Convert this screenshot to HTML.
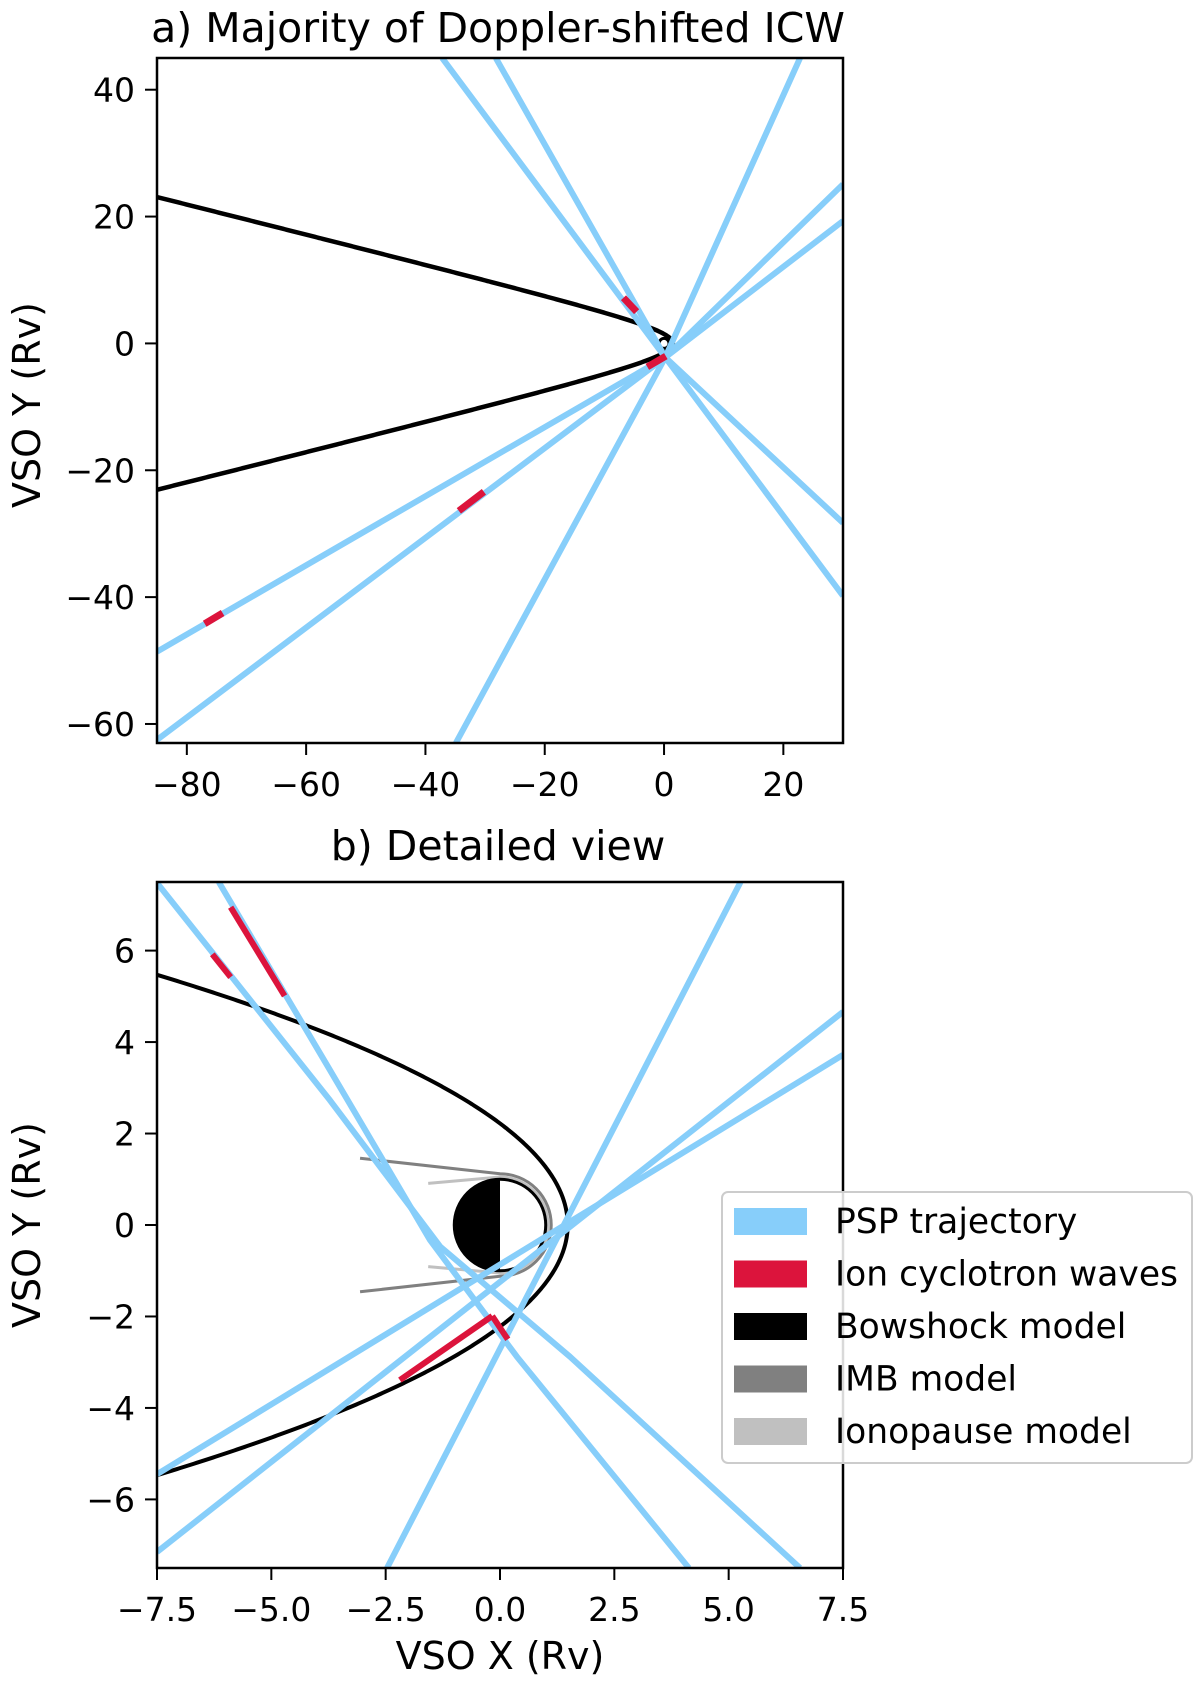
<!DOCTYPE html>
<html><head><meta charset="utf-8"><style>
html,body{margin:0;padding:0;background:#fff;overflow:hidden;}
svg{display:block;font-family:"DejaVu Sans","Liberation Sans",sans-serif;}
</style></head><body>
<svg id="fig" width="1200" height="1683" viewBox="0 0 1200 1683" xmlns="http://www.w3.org/2000/svg"></svg>
<script>
// ---------- data (panel a) ----------
const aXTicks = [-80, -60, -40, -20, 0, 20];
const aYTicks = [-60, -40, -20, 0, 20, 40];
const aConv = [0.2, -2.2];
const aTrajStartX = [-37.2, -28.2, -34.9, -85, -85];
const aTrajStartY = [45, 45, -63, -62.5, -48.6];
const aTrajEndX = [30, 30, 22.8, 30, 30];
const aTrajEndY = [-28.3, -39.8, 45, 19.3, 25.1];
const aIcw = [[-6.8, 7.2, -4.6, 5.0], [-2.8, -3.7, 0.3, -2.0], [-34.4, -26.4, -30.2, -23.4], [-77.0, -44.2, -74.0, -42.5]];
// bow shock model (panel a): hyperbola x = nose - A*(sqrt(1+(y/B)^2)-1)
const bsParamsA = [1.48, 12.8, 3.0];
const bsYMaxA = 24;
// bow shock model (panel b): parabola x = nose - a*y^2
const bsParamsB = [1.48, 0.30];
const bsYMaxB = 5.8;
// ---------- data (panel b) ----------
const bXTicks = [-7.5, -5.0, -2.5, 0.0, 2.5, 5.0, 7.5];
const bYTicks = [-6, -4, -2, 0, 2, 4, 6];
const bTrajX = [
  [-7.5, -3.72, -1.31, 1.53, 6.56],
  [-6.15, -3.72, -1.53, 0.37, 4.13],
  [-2.47, 5.26],
  [-7.5, 7.5],
  [-7.5, 7.5]
];
const bTrajY = [
  [7.48, 2.73, -0.47, -2.88, -7.5],
  [7.5, 3.39, -0.33, -2.88, -7.5],
  [-7.5, 7.5],
  [-5.45, 3.72],
  [-7.15, 4.66]
];
const bIcw = [[-5.89, 6.95, -4.71, 5.01], [-6.29, 5.92, -5.89, 5.42], [-2.19, -3.39, -0.17, -1.99], [-0.17, -1.99, 0.17, -2.5]];
const imbTail = [-3.06, 1.46];
const imbR = 1.12;
const ionoTail = [-1.57, 0.91];
const ionoR = 1.05;
const legendLabels = ["PSP trajectory", "Ion cyclotron waves", "Bowshock model", "IMB model", "Ionopause model"];
const legendColors = ["#87CEFA", "#DC143C", "#000000", "#808080", "#C0C0C0"];

const NS = "http://www.w3.org/2000/svg";
const svg = document.getElementById("fig");
function mk(tag, attrs, parent) {
  const e = document.createElementNS(NS, tag);
  for (const k in attrs) e.setAttribute(k, attrs[k]);
  (parent || svg).appendChild(e);
  return e;
}
function fmt(v, dec) { const s = Math.abs(v).toFixed(dec); return (v < 0 ? "\u2212" : "") + s; }

function axes(L, T, R, B, xmin, xmax, ymin, ymax) {
  return {
    x: v => L + (v - xmin) / (xmax - xmin) * (R - L),
    y: v => B - (v - ymin) / (ymax - ymin) * (B - T),
    L, T, R, B
  };
}

function drawPanel(ax, clipId, name) {
  const defs = mk("defs", {});
  const cp = mk("clipPath", { id: clipId }, defs);
  mk("rect", { x: ax.L, y: ax.T, width: ax.R - ax.L, height: ax.B - ax.T }, cp);
  const g = mk("g", { "clip-path": "url(#" + clipId + ")" });
  
  
  return g;
}

function frame(ax, xt, yt, xdec, ydec, name) {
  for (const v of xt) {
    const X = ax.x(v);
    const t = mk("line", { x1: X, y1: ax.B, x2: X, y2: ax.B + 12, stroke: "#000", "stroke-width": 2 });
    
    
    const l = mk("text", { x: X, y: ax.B + 53, "text-anchor": "middle", "font-size": 33, fill: "#000" });
    l.textContent = fmt(v, xdec);
    
    
  }
  for (const v of yt) {
    const Y = ax.y(v);
    const t = mk("line", { x1: ax.L - 12, y1: Y, x2: ax.L, y2: Y, stroke: "#000", "stroke-width": 2 });
    
    
    const l = mk("text", { x: ax.L - 22, y: Y + 12, "text-anchor": "end", "font-size": 33, fill: "#000" });
    l.textContent = fmt(v, ydec);
    
    
  }
  const r = mk("rect", { x: ax.L, y: ax.T, width: ax.R - ax.L, height: ax.B - ax.T, fill: "none", stroke: "#000", "stroke-width": 2.5 });
  
  
}

function seg(g, ax, x1, y1, x2, y2, color, w, nm) {
  const e = mk("line", { x1: ax.x(x1), y1: ax.y(y1), x2: ax.x(x2), y2: ax.y(y2), stroke: color, "stroke-width": w, "stroke-linecap": "butt" }, g);
  
  
  return e;
}

function bowshock(g, ax, fx, ymax, w, nm) {
  const pts = [];
  const N = 300;
  for (let i = -N; i <= N; i++) {
    const y = ymax * i / N;
    pts.push(ax.x(fx(y)).toFixed(2) + "," + ax.y(y).toFixed(2));
  }
  const e = mk("polyline", { points: pts.join(" "), fill: "none", stroke: "#000", "stroke-width": w, "stroke-linejoin": "round" }, g);
  
  
}

// ---------- Panel a ----------
const A = axes(157, 58, 843, 743, -85, 30, -63, 45);
const gA = drawPanel(A, "clipA", "panel-a");
bowshock(gA, A, y => bsParamsA[0] - bsParamsA[1] * (Math.sqrt(1 + (y / bsParamsA[2]) ** 2) - 1), bsYMaxA, 4.5, "bowshock-model-a");
const venA = mk("circle", { cx: A.x(0), cy: A.y(0), r: 5, fill: "#fff", stroke: "#000", "stroke-width": 3 }, gA);


for (let i = 0; i < aTrajStartX.length; i++) {
  const p = mk("polyline", {
    points: [A.x(aTrajStartX[i]), A.y(aTrajStartY[i]), A.x(aConv[0]), A.y(aConv[1]), A.x(aTrajEndX[i]), A.y(aTrajEndY[i])].join(" "),
    fill: "none", stroke: "#87CEFA", "stroke-width": 6
  }, gA);
  
  
}
for (const s of aIcw) seg(gA, A, s[0], s[1], s[2], s[3], "#DC143C", 7, "icw-segment-a");
frame(A, aXTicks, aYTicks, 0, 0, "panel-a");

const tA = mk("text", { x: 498, y: 42, "text-anchor": "middle", "font-size": 41, fill: "#000" });
tA.textContent = "a) Majority of Doppler-shifted ICW";


const yA = mk("text", { x: 0, y: 0, "text-anchor": "middle", "font-size": 38, fill: "#000", transform: "translate(40,405) rotate(-90)" });
yA.textContent = "VSO Y (Rv)";



// ---------- Panel b ----------
const B = axes(157, 882, 843, 1568, -7.5, 7.5, -7.5, 7.5);
const gB = drawPanel(B, "clipB", "panel-b");
function modelCurve(tail, R, color, w, nm) {
  const tx = B.x(tail[0]), ty1 = B.y(tail[1]), ty2 = B.y(-tail[1]);
  const rp = R * (B.R - B.L) / 15;
  const cx = B.x(0), cy = B.y(0);
  const d = "M" + tx + " " + ty1 + " L" + cx + " " + (cy - rp) + " A" + rp + " " + rp + " 0 0 1 " + cx + " " + (cy + rp) + " L" + tx + " " + ty2;
  const e = mk("path", { d: d, fill: "none", stroke: color, "stroke-width": w }, gB);
  
  
}
modelCurve(imbTail, imbR, "#808080", 3, "imb-model");
modelCurve(ionoTail, ionoR, "#C0C0C0", 3, "ionopause-model");
const vr = (B.R - B.L) / 15;
const vg = mk("g", {}, gB);


mk("circle", { cx: B.x(0), cy: B.y(0), r: vr, fill: "#fff" }, vg);
mk("path", { d: "M" + B.x(0) + " " + (B.y(0) - vr) + " A" + vr + " " + vr + " 0 0 0 " + B.x(0) + " " + (B.y(0) + vr) + " Z", fill: "#000" }, vg);
mk("circle", { cx: B.x(0), cy: B.y(0), r: vr, fill: "none", stroke: "#000", "stroke-width": 3 }, vg);
bowshock(gB, B, y => bsParamsB[0] - bsParamsB[1] * y * y, bsYMaxB, 4, "bowshock-model-b");
for (let i = 0; i < bTrajX.length; i++) {
  const pts = bTrajX[i].map((x, j) => B.x(x).toFixed(2) + "," + B.y(bTrajY[i][j]).toFixed(2));
  const p = mk("polyline", { points: pts.join(" "), fill: "none", stroke: "#87CEFA", "stroke-width": 6, "stroke-linejoin": "round" }, gB);
  
  
}
for (const s of bIcw) seg(gB, B, s[0], s[1], s[2], s[3], "#DC143C", 6, "icw-segment-b");
frame(B, bXTicks, bYTicks, 1, 0, "panel-b");

const tB = mk("text", { x: 498, y: 860, "text-anchor": "middle", "font-size": 41, fill: "#000" });
tB.textContent = "b) Detailed view";


const yB = mk("text", { x: 0, y: 0, "text-anchor": "middle", "font-size": 38, fill: "#000", transform: "translate(40,1225) rotate(-90)" });
yB.textContent = "VSO Y (Rv)";


const xB = mk("text", { x: 500, y: 1669, "text-anchor": "middle", "font-size": 38, fill: "#000" });
xB.textContent = "VSO X (Rv)";



// ---------- Legend ----------
const lg = mk("g", {});


mk("rect", { x: 722, y: 1192, width: 470, height: 271, rx: 6, fill: "#fff", "fill-opacity": 0.85, stroke: "#ccc", "stroke-width": 2 }, lg);
for (let i = 0; i < legendLabels.length; i++) {
  const cy = 1221 + i * 52.5;
  const e = mk("g", {}, lg);
  
  
  mk("rect", { x: 734, y: cy - 13, width: 73, height: 27, fill: legendColors[i] }, e);
  const t = mk("text", { x: 835, y: cy + 12, "font-size": 34.5, fill: "#000" }, e);
  t.textContent = legendLabels[i];
}
</script>
</body></html>
